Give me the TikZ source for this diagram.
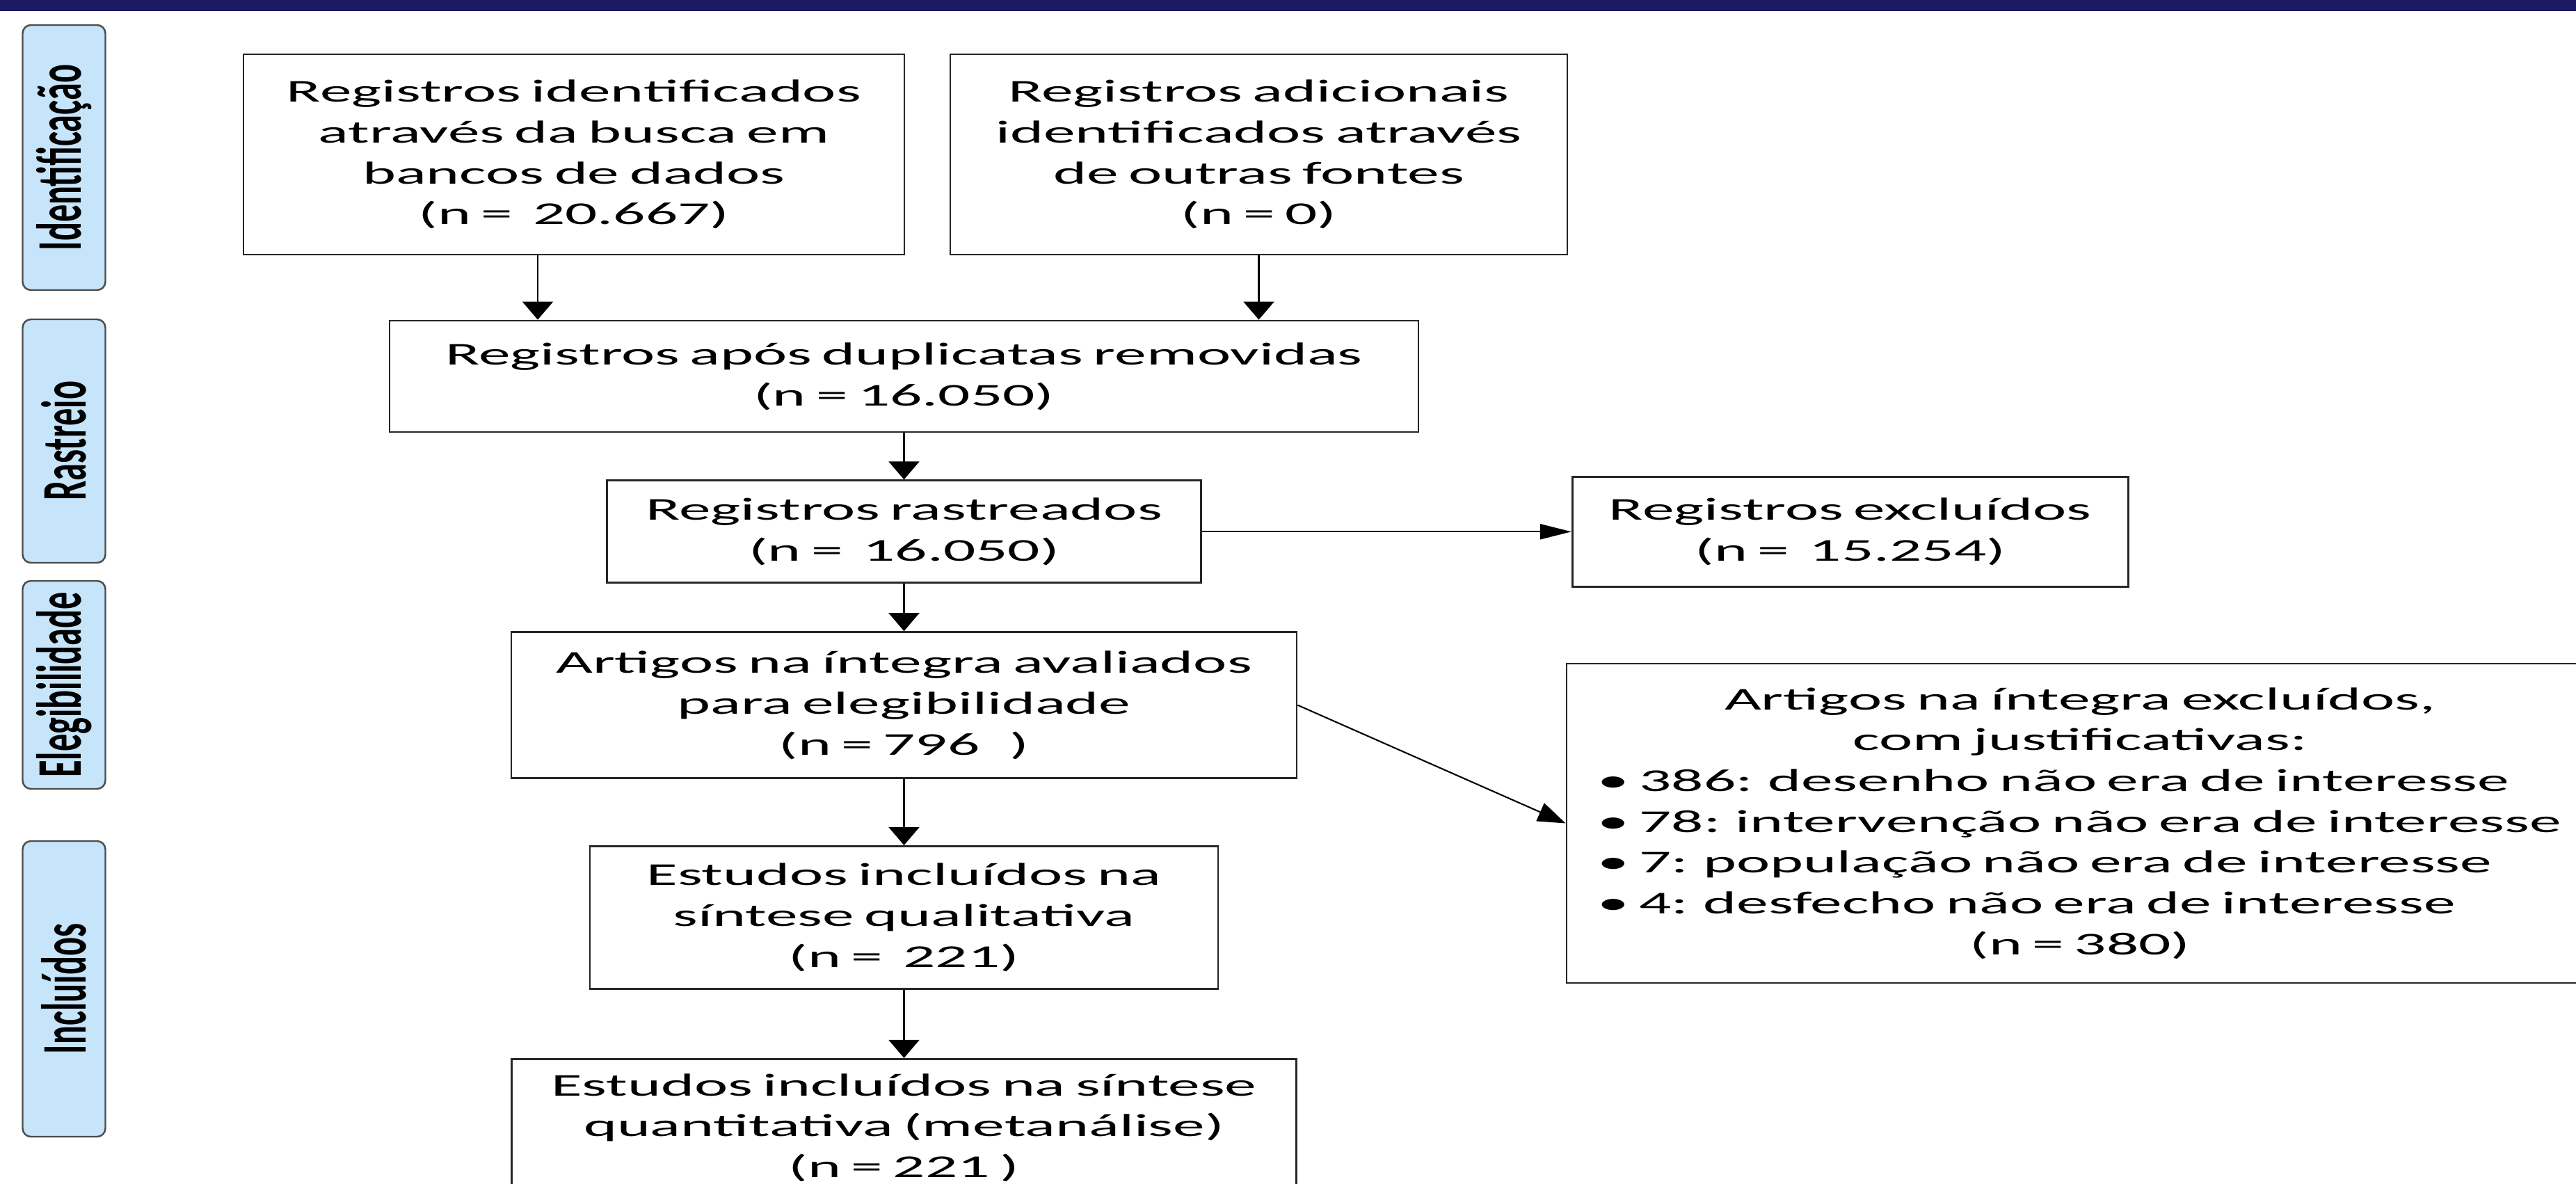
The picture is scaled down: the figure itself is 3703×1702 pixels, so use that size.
\documentclass[tikz,border=0pt]{standalone}
\usepackage{fontspec}
\setmainfont{Carlito}[FakeStretch=2.0, WordSpace=0.7]
\newfontfamily\sidefont{Carlito}[FakeStretch=0.55]
\usetikzlibrary{positioning, arrows.meta}
\definecolor{barnavy}{RGB}{28,26,99}
\definecolor{labelblue}{RGB}{198,228,250}
\newcommand{\reason}[1]{\makebox[138.8mm][l]{\textbullet\hspace{1.5mm}#1}}

\begin{document}
\begin{tikzpicture}[x=0.1mm, y=-0.1mm,
    box/.style={draw=black!85, line width=0.8pt, align=center, inner sep=0pt,
      font=\fontsize{13pt}{16.7pt}\selectfont},
    phase/.style={draw=black!70, line width=0.7pt, fill=labelblue, rounded corners=1.2mm,
      rotate=90, inner sep=0pt, minimum height=11.9mm,
      font=\fontsize{26pt}{30pt}\sidefont\bfseries},
    flow/.style={-{Triangle[length=2.6mm, width=4.4mm]}, line width=0.6pt},
    side/.style={-{Triangle[length=4.5mm, width=2.2mm]}, line width=0.6pt},
    slant/.style={-{Triangle[length=4mm, width=2.8mm]}, line width=0.6pt}]
  \useasboundingbox (0,0) rectangle (3703,1702);
  \fill [barnavy] (0,0) rectangle (3703,16);

  % phases
  \node [phase, minimum width=38.1mm] (identificacao) at (92,226.5) {Identificação};
  \node [phase, minimum width=35mm] (rastreio) at (92,634) {Rastreio};
  \node [phase, minimum width=29.9mm] (elegibilidade) at (92,984.5) {Elegibilidade};
  \node [phase, minimum width=42.5mm] (incluidos) at (92,1421.5) {Incluídos};

  % identification
  \node [box, minimum width=95mm, minimum height=28.8mm] (ident) at (825,222) {
    Registros identificados\\
    através da busca em\\
    bancos de dados\\
    (n = \ 20.667)
  };
  \node [box, minimum width=88.7mm, minimum height=28.8mm] (extra) at (1809.5,222) {
    Registros adicionais\\
    identificados através\\
    de outras fontes\\
    (n = 0)
  };

  % screening
  \node [box, minimum width=147.9mm, minimum height=16mm] (dup) at (1299.5,541) {
    Registros após duplicatas removidas\\
    (n = 16.050)
  };
  \node [box, below=6.7mm of dup, minimum width=85.4mm, minimum height=14.7mm] (screen) {
    Registros rastreados\\
    (n = \ 16.050)
  };
  \node [box, right=53.1mm of screen, minimum width=79.9mm, minimum height=15.8mm] (screenexcl) {
    Registros excluídos\\
    (n = \ 15.254)
  };

  % eligibility
  \node [box, below=6.8mm of screen, minimum width=112.9mm, minimum height=21mm] (full) {
    Artigos na íntegra avaliados\\
    para elegibilidade\\
    (n = 796 \ \ )
  };
  \node [box, minimum width=147.6mm, minimum height=45.9mm] (fullexcl) at (2990,1183.5) {
    Artigos na íntegra excluídos,\\
    com justificativas:\\
    \reason{386: desenho não era de interesse}\\
    \reason{78: intervenção não era de interesse}\\
    \reason{7: população não era de interesse}\\
    \reason{4: desfecho não era de interesse}\\
    (n = 380)
  };

  % included
  \node [box, below=9.5mm of full, minimum width=90.3mm, minimum height=20.5mm] (qual) {
    Estudos incluídos na\\
    síntese qualitativa\\
    (n = \ 221)
  };
  \node [box, below=9.8mm of qual, minimum width=112.8mm, minimum height=19.8mm] (quant) {
    Estudos incluídos na síntese\\
    quantitativa (metanálise)\\
    (n = 221 )
  };

  \draw [flow] ([xshift=-5.2mm]ident.south) -- ([xshift=-5.2mm]ident.south |- dup.north);
  \draw [flow] (extra.south) -- (extra.south |- dup.north);
  \draw [flow] (screen.north |- dup.south) -- (screen.north);
  \draw [flow] (screen.south) -- (screen.south |- full.north);
  \draw [flow] (full.south) -- (qual.north);
  \draw [flow] (qual.south) -- (quant.north);
  \draw [side] (screen.east) -- (screenexcl.west);
  \draw [slant] (full.east) -- (fullexcl.west);
\end{tikzpicture}
\end{document}
